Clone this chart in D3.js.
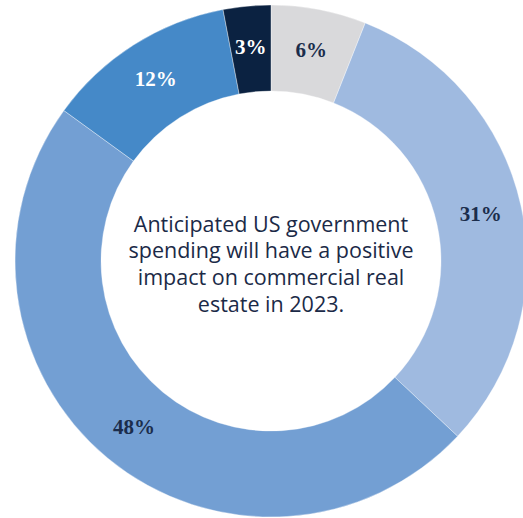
<!DOCTYPE html>
<html><head><meta charset="utf-8">
<script src="https://cdn.jsdelivr.net/npm/d3@7"></script>
<style>body{margin:0;background:#fff;}svg{display:block;}</style>
</head><body>
<script>
const categories = ["A","B","C","D","E"];
const values = [6, 31, 48, 12, 3];
const labels = ["6%","31%","48%","12%","3%"];
const colors = ["#d9d9db","#9fbae0","#739fd3","#4589c8","#0b2241"];
const labelColors = ["#1b2d4c","#1b2d4c","#1b2d4c","#ffffff","#ffffff"];
const centerLines = ["Anticipated US government","spending will have a positive","impact on commercial real","estate in 2023."];

const W=523,H=518, cx=271, cy=261, R=256, r=170;
const svg=d3.select("body").append("svg").attr("width",W).attr("height",H);
const g=svg.append("g").attr("transform",`translate(${cx},${cy})`);
const pie=d3.pie().sort(null).value(d=>d.v);
const data=pie(values.map((v,i)=>({v,i})));
const arc=d3.arc().innerRadius(r).outerRadius(R);
const labelArc=d3.arc().innerRadius(r+2).outerRadius(R+2);
g.selectAll("path").data(data).join("path")
 .attr("d",arc).attr("fill",d=>colors[d.data.i])
 .attr("stroke","#ffffff").attr("stroke-width",0.6).attr("stroke-opacity",0.6);
g.selectAll("text.lbl").data(data).join("text").attr("class","lbl")
 .attr("transform",d=>`translate(${labelArc.centroid(d)})`)
 .attr("text-anchor","middle").attr("dominant-baseline","central")
 .attr("font-family","'Liberation Serif', serif").attr("font-weight","bold")
 .attr("font-size",21).attr("fill",d=>labelColors[d.data.i])
 .text(d=>labels[d.data.i]);
const ct=g.append("text").attr("text-anchor","middle")
 .attr("font-family","'Open Sans','Noto Sans',sans-serif").attr("font-size",21.5).attr("fill","#1b2a47");
centerLines.forEach((t,i)=>{
 ct.append("tspan").attr("x",0).attr("y",-38+i*26.7).attr("dominant-baseline","central").text(t);
});
</script>
</body></html>
